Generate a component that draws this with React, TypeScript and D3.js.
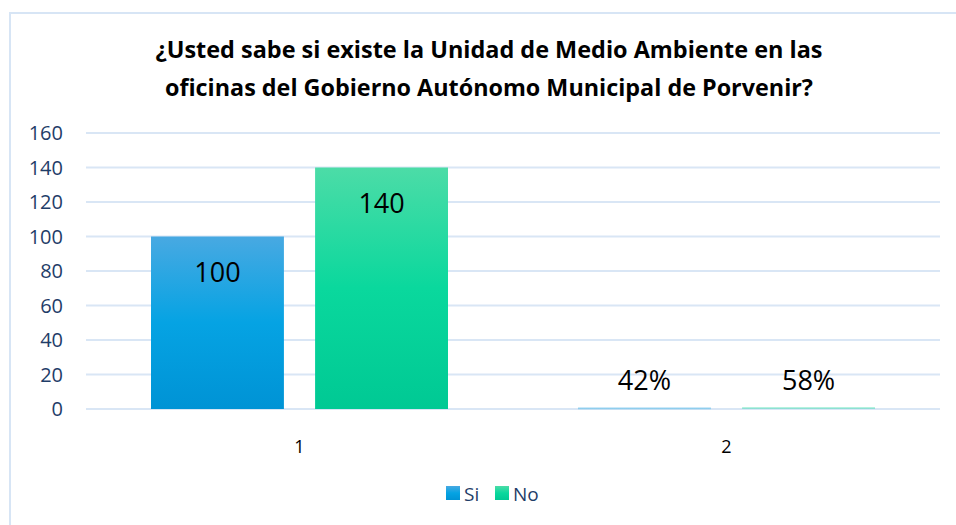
import React from "react";
import * as d3 from "d3";

const categories = ["1", "2"];
const seriesNames = ["Si", "No"];
const siValues = [100, 0.42];
const noValues = [140, 0.58];
const siLabels = ["100", "42%"];
const noLabels = ["140", "58%"];
const yTicks = [0, 20, 40, 60, 80, 100, 120, 140, 160];
const titleLines = [
  "¿Usted sabe si existe la Unidad de Medio Ambiente en las",
  "oficinas del Gobierno Autónomo Municipal de Porvenir?",
];
const titleWidths = [667, 648];

const W = 956;
const H = 525;
const font = "'Open Sans', 'Noto Sans', sans-serif";

export default function App() {
  const x0 = d3.scaleBand().domain(categories).range([86, 940]).paddingInner(0).paddingOuter(0);
  const x1 = d3.scaleBand().domain(seriesNames).range([65, 362]).paddingInner(0.19).paddingOuter(0);
  const y = d3.scaleLinear().domain([0, 160]).range([409, 133]);
  const series = [
    { name: "Si", values: siValues, labels: siLabels, fill: "url(#gSi)" },
    { name: "No", values: noValues, labels: noLabels, fill: "url(#gNo)" },
  ];
  return (
    <svg width={W} height={H} style={{ position: "absolute", left: 0, top: 0 }}>
      <defs>
        <linearGradient id="gSi" x1="0" y1="0" x2="0" y2="1">
          <stop offset="0" stopColor="#48A9E2" />
          <stop offset="0.5" stopColor="#05A3E3" />
          <stop offset="1" stopColor="#0093D5" />
        </linearGradient>
        <linearGradient id="gNo" x1="0" y1="0" x2="0" y2="1">
          <stop offset="0" stopColor="#4CDCA7" />
          <stop offset="0.5" stopColor="#0AD89D" />
          <stop offset="1" stopColor="#00C994" />
        </linearGradient>
      </defs>
      <rect x={0} y={0} width={W} height={H} fill="#fff" />
      <path d={`M10,${H} L10,13 L${W},13`} fill="none" stroke="#D7E5F5" strokeWidth={2} />
      {titleLines.map((t, i) => (
        <text key={i} x={489} y={58 + i * 38} textAnchor="middle" fontFamily={font} fontWeight="bold" fontSize={22.5}
          textLength={titleWidths[i]} lengthAdjust="spacingAndGlyphs" fill="#000">
          {t}
        </text>
      ))}
      {yTicks.map((t) => (
        <g key={t}>
          <line x1={86} x2={940} y1={y(t)} y2={y(t)} stroke="#D9E6F5" strokeWidth={2} />
          <text x={63} y={y(t) + 7} textAnchor="end" fontFamily={font} fontSize={20} fill="#1F3D68">
            {t}
          </text>
        </g>
      ))}
      {categories.map((c, ci) => (
        <g key={c}>
          {series.map((s) => {
            const bx = (x0(c) as number) + (x1(s.name) as number);
            const bw = x1.bandwidth();
            const v = s.values[ci];
            const top = y(v);
            const h = Math.max(y(0) - top, 0);
            const labelY = h > 30 ? top + 45 : y(20) + 15;
            return (
              <g key={s.name}>
                <rect x={bx} y={top - (h < 2 ? 1 : 0)} width={bw} height={Math.max(h, 2)} fill={s.fill} opacity={h < 2 ? 0.35 : 1} />
                <text x={bx + bw / 2} y={labelY} textAnchor="middle" fontFamily={font} fontSize={27} fill="#000">
                  {s.labels[ci]}
                </text>
              </g>
            );
          })}
          <text x={(x0(c) as number) + x0.bandwidth() / 2} y={453} textAnchor="middle" fontFamily={font} fontSize={18} fill="#000">
            {c}
          </text>
        </g>
      ))}
      <g>
        <rect x={446} y={486} width={14} height={14} fill="url(#gSi)" />
        <text x={464} y={501} fontFamily={font} fontSize={19} fill="#1F3D68">Si</text>
        <rect x={495} y={486} width={14} height={14} fill="url(#gNo)" />
        <text x={513} y={501} fontFamily={font} fontSize={19} fill="#1F3D68">No</text>
      </g>
    </svg>
  );
}
